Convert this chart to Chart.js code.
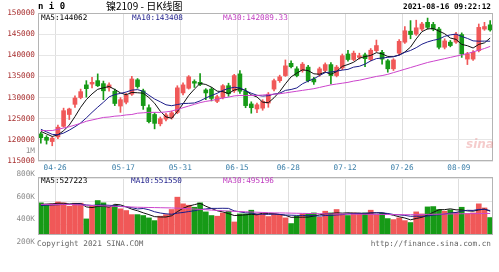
<!DOCTYPE html>
<html>
<head>
<meta charset="utf-8">
<script src="https://cdn.jsdelivr.net/npm/chart.js@4.4.1/dist/chart.umd.min.js"></script>
<style>
  body { margin: 0; background: #fff; }
  #wrap { position: relative; width: 499px; height: 272px; overflow: hidden; background: #fff; }
  #wrap canvas { position: absolute; left: 0; top: 0; }
  .txt { position: absolute; white-space: nowrap; font-family: 'DejaVu Sans Mono', monospace; font-size: 7.7px; line-height: 10px; }
</style>
</head>
<body>
<div id="wrap">
  <canvas id="kline" width="499" height="272"></canvas>
  <canvas id="vol" width="499" height="272"></canvas>

  <div class="txt" style="left:38px;top:1px;font-size:9px;font-weight:bold;">n i 0</div>
  <div class="txt" style="left:106px;top:0px;font-family:'Noto Sans CJK SC';font-size:10px;line-height:12px;">镍2109 - 日K线图</div>
  <div class="txt" style="right:8px;top:2px;font-weight:bold;">2021-08-16 09:22:12</div>

  <div class="txt" style="left:41px;top:13px;color:#000;">MA5:144062</div>
  <div class="txt" style="left:132px;top:13px;color:#1c1c8a;">MA10:143408</div>
  <div class="txt" style="left:223px;top:13px;color:#c03cc0;">MA30:142089.33</div>

  <div class="txt" style="left:41px;top:176px;color:#000;">MA5:527223</div>
  <div class="txt" style="left:131px;top:176px;color:#1c1c8a;">MA10:551550</div>
  <div class="txt" style="left:223px;top:176px;color:#c03cc0;">MA30:495196</div>

  <div class="txt" style="left:37px;top:239px;color:#666;">Copyright 2021 SINA.COM</div>
  <div class="txt" style="right:8px;top:239px;color:#666;">http://finance.sina.com.cn</div>
  <div class="txt" style="left:466px;top:139px;font-family:'DejaVu Sans';font-size:12px;font-style:italic;font-weight:bold;color:rgba(225,110,110,0.35);">sina</div>
</div>

<script>
// trading days shown on the chart
const dates = [
  '04-21','04-22','04-23','04-26','04-27','04-28','04-29','04-30','05-06','05-07',
  '05-10','05-11','05-12','05-13','05-14','05-17','05-18','05-19','05-20','05-21',
  '05-24','05-25','05-26','05-27','05-28','05-31','06-01','06-02','06-03','06-04',
  '06-07','06-08','06-09','06-10','06-11','06-15','06-16','06-17','06-18','06-21',
  '06-22','06-23','06-24','06-25','06-28','06-29','06-30','07-01','07-02','07-05',
  '07-06','07-07','07-08','07-09','07-12','07-13','07-14','07-15','07-16','07-19',
  '07-20','07-21','07-22','07-23','07-26','07-27','07-28','07-29','07-30','08-02',
  '08-03','08-04','08-05','08-06','08-09','08-10','08-11','08-12','08-13','08-16'
];
const tickDates = ['04-26', '05-17', '05-31', '06-15', '06-28', '07-12', '07-26', '08-09'];

const openPrices = [
  121400, 120600, 119600, 120700, 123200, 126000, 128400, 130000, 133000, 133200,
  134000, 133300, 132300, 131500, 128000, 128900, 130800, 134200, 131600, 127600,
  126000, 123800, 124900, 125300, 126500, 131100, 132200, 133800, 133600, 131800,
  132000, 129100, 130000, 132800, 131600, 135600, 131500, 128500, 127300, 127500,
  128700, 132000, 134000, 135200, 138100, 136800, 136400, 137200, 134400, 135400,
  136400, 137800, 135200, 137000, 140300, 139000, 139500, 140100, 139000, 141100,
  140700, 138700, 136800, 140500, 143100, 145700, 145000, 146200, 147800, 147300,
  146200, 141900, 143100, 143100, 144900, 139100, 139100, 141100, 146200, 147200
];
const closePrices = [
  120500, 119900, 120400, 123000, 126900, 127300, 129900, 131400, 132100, 133600,
  132800, 131600, 133000, 128600, 129500, 130600, 134400, 132600, 128100, 124300,
  123900, 125000, 125900, 126400, 132300, 133000, 134900, 133400, 133100, 131100,
  129800, 130200, 132800, 130900, 135200, 131500, 128100, 127600, 128300, 129100,
  130800, 134000, 134900, 137500, 137300, 135200, 137900, 134000, 133700, 136800,
  137800, 135200, 137200, 139900, 139000, 140500, 139900, 139200, 141200, 142300,
  139100, 136800, 138900, 143300, 145800, 144900, 146500, 147400, 146600, 146200,
  141900, 143400, 142300, 145000, 140300, 140300, 140700, 146600, 146800, 146000
];
const highPrices = [
  121800, 121000, 120700, 123500, 127500, 127500, 130400, 132000, 134000, 134800,
  135600, 133900, 133500, 132000, 130000, 131000, 135000, 134500, 132000, 128300,
  126400, 125400, 126300, 126800, 132800, 133500, 135200, 134200, 135700, 132100,
  132400, 130600, 133100, 133400, 135500, 136400, 132200, 129000, 128700, 129500,
  131200, 134400, 135300, 138900, 138700, 137300, 138300, 137600, 134800, 137200,
  138200, 138300, 137600, 140300, 141200, 141000, 140500, 140500, 141600, 143600,
  141200, 139000, 139200, 143700, 146800, 148200, 148300, 147800, 148800, 147800,
  146600, 143900, 143500, 145400, 145300, 140700, 141100, 147400, 147800, 148200
];
const lowPrices = [
  119200, 119000, 118600, 120300, 123000, 124800, 127700, 129700, 130100, 132300,
  132600, 129500, 131500, 128100, 126500, 128500, 130500, 132200, 127200, 124000,
  122600, 123300, 124500, 124900, 126200, 130600, 132000, 132400, 132800, 129500,
  129200, 128800, 129700, 130300, 131200, 131000, 127600, 126300, 126400, 127000,
  127700, 131600, 133600, 135000, 137000, 134900, 136000, 133700, 133100, 135000,
  136000, 133200, 134900, 136600, 138600, 138700, 139100, 137300, 138700, 140800,
  137900, 136000, 136400, 140100, 142800, 143900, 144700, 145800, 146200, 145800,
  141500, 141500, 142000, 142800, 139500, 137800, 138800, 140800, 145900, 145700
];

const ma5 = [
  122000, 121400, 120800, 121200, 122140, 123500, 125500, 127700, 129520, 130860,
  131960, 132300, 132620, 131920, 131100, 130660, 131220, 131140, 131040, 130000,
  128660, 126780, 125440, 125100, 126700, 128520, 130500, 132000, 133340, 133100,
  132460, 131520, 131400, 130960, 131780, 132120, 131700, 130660, 130140, 128920,
  128780, 129960, 131420, 133260, 134900, 135780, 136560, 136380, 135620, 135520,
  136040, 135500, 136140, 137380, 137820, 138360, 139300, 139700, 139960, 140620,
  140340, 139720, 139660, 140080, 140780, 141940, 143880, 145580, 146240, 146320,
  145720, 145100, 144080, 143760, 142580, 142260, 141720, 142580, 142940, 144080
];
const ma10 = [
  122500, 121900, 121300, 121200, 121600, 122300, 123100, 124000, 125200, 126500,
  127730, 128900, 130160, 130720, 130980, 131310, 131760, 131880, 131480, 130550,
  129660, 129000, 128290, 128070, 128350, 128590, 128640, 128720, 129220, 129900,
  130490, 131010, 131700, 132150, 132440, 132290, 131610, 131030, 130550, 130350,
  130450, 130830, 131040, 131700, 131910, 132280, 133260, 133900, 134440, 135210,
  135910, 136030, 136260, 136500, 136670, 137200, 137400, 137920, 138670, 139220,
  139350, 139510, 139680, 140020, 140700, 141140, 141800, 142620, 143160, 143550,
  143830, 144490, 144830, 145000, 144450, 143990, 143410, 143330, 143350, 143330
];
const ma30 = [
  122200, 122200, 122200, 122500, 122800, 123100, 123500, 123900, 124400, 124700,
  125000, 125300, 125400, 125600, 125700, 125900, 126000, 126300, 126400, 126500,
  126500, 126500, 126600, 126800, 127200, 127600, 128000, 128400, 128800, 129100,
  129300, 129600, 129900, 130100, 130400, 130500, 130500, 130500, 130500, 130600,
  130700, 130800, 130900, 131100, 131300, 131500, 131700, 131900, 132100, 132400,
  132700, 133000, 133200, 133400, 133600, 133900, 134100, 134400, 134700, 135000,
  135200, 135500, 135900, 136300, 136700, 137100, 137500, 137900, 138300, 138600,
  138900, 139200, 139500, 139800, 140100, 140400, 140800, 141200, 141600, 142100
];

const volumes = [
  589000, 568000, 580000, 597000, 589000, 559000, 586000, 586000, 447000, 559000,
  609000, 589000, 553000, 568000, 536000, 521000, 485000, 485000, 477000, 456000,
  432000, 471000, 485000, 530000, 639000, 580000, 568000, 550000, 589000, 509000,
  477000, 471000, 500000, 515000, 420000, 491000, 491000, 524000, 491000, 494000,
  468000, 491000, 485000, 456000, 406000, 471000, 491000, 491000, 500000, 462000,
  515000, 500000, 530000, 485000, 477000, 500000, 497000, 500000, 524000, 485000,
  497000, 450000, 441000, 456000, 432000, 415000, 509000, 491000, 553000, 556000,
  530000, 515000, 527000, 506000, 550000, 494000, 500000, 580000, 544000, 459000
];
const volMa5 = [
  575000, 578000, 580000, 585000, 585000, 579000, 582000, 583000, 553000, 547000,
  557000, 558000, 551000, 576000, 571000, 553000, 533000, 519000, 501000, 485000,
  467000, 464000, 464000, 475000, 511000, 541000, 560000, 573000, 585000, 559000,
  539000, 519000, 509000, 494000, 477000, 479000, 483000, 488000, 483000, 498000,
  494000, 494000, 486000, 479000, 461000, 462000, 462000, 463000, 472000, 483000,
  492000, 494000, 501000, 498000, 501000, 498000, 498000, 492000, 500000, 501000,
  501000, 491000, 479000, 466000, 455000, 439000, 451000, 461000, 480000, 505000,
  528000, 529000, 536000, 527000, 526000, 518000, 515000, 526000, 534000, 515000
];
const volMa10 = [
  565000, 568000, 570000, 572000, 575000, 576000, 578000, 579000, 570000, 566000,
  570000, 570000, 567000, 565000, 559000, 555000, 546000, 535000, 539000, 528000,
  510000, 499000, 492000, 488000, 498000, 504000, 512000, 519000, 530000, 535000,
  540000, 540000, 541000, 540000, 518000, 509000, 501000, 499000, 489000, 488000,
  487000, 489000, 487000, 481000, 480000, 478000, 478000, 475000, 476000, 472000,
  477000, 478000, 482000, 485000, 492000, 495000, 496000, 497000, 499000, 501000,
  500000, 495000, 486000, 483000, 478000, 470000, 471000, 470000, 473000, 480000,
  484000, 490000, 499000, 504000, 516000, 523000, 522000, 531000, 531000, 521000
];
const volMa30 = [
  575000, 575000, 575000, 575000, 575000, 575000, 572000, 570000, 568000, 566000,
  564000, 562000, 560000, 558000, 556000, 554000, 552000, 550000, 549000, 548000,
  547000, 546000, 545000, 544000, 542000, 540000, 537000, 534000, 531000, 528000,
  525000, 522000, 519000, 516000, 514000, 512000, 510000, 508000, 506000, 504000,
  502000, 500000, 500000, 499000, 498000, 497000, 496000, 495000, 494000, 493000,
  492000, 491000, 490000, 490000, 489000, 489000, 488000, 488000, 487000, 487000,
  486000, 486000, 485000, 485000, 484000, 484000, 485000, 486000, 487000, 488000,
  489000, 490000, 491000, 492000, 493000, 493000, 494000, 494000, 495000, 495000
];
const volTicks = [200000, 400000, 600000, 800000, 1000000];

const RED = '#f05858';
const GREEN = '#169a16';
const MONO = { family: 'DejaVu Sans Mono', size: 7.7 };

const upDay = openPrices.map((o, i) => closePrices[i] >= o);
const candleColors = upDay.map(u => u ? RED : GREEN);

// outline of the plot box
const framePlugin = {
  id: 'frame',
  afterDraw(chart) {
    const a = chart.chartArea;
    const ctx = chart.ctx;
    ctx.save();
    ctx.strokeStyle = '#b4b4b4';
    ctx.lineWidth = 1;
    ctx.strokeRect(a.left + 0.5, a.top + 0.5, a.right - a.left - 1, a.bottom - a.top - 1);
    ctx.restore();
  }
};

const dateGridColor = ctx => tickDates.includes(dates[ctx.index]) ? '#dedede' : 'rgba(0,0,0,0)';

function maLine(data, color) {
  return {
    type: 'line',
    data: data,
    borderColor: color,
    borderWidth: 1,
    pointRadius: 0,
    fill: false,
    tension: 0,
    order: 0
  };
}

new Chart(document.getElementById('kline'), {
  type: 'bar',
  data: {
    labels: dates,
    datasets: [
      maLine(ma30, '#cc44cc'),
      maLine(ma10, '#1c1c8a'),
      maLine(ma5, '#111'),
      {
        data: openPrices.map((o, i) => [o, closePrices[i]]),
        backgroundColor: candleColors,
        borderWidth: 0,
        barThickness: 4,
        minBarLength: 1,
        grouped: false,
        order: 1
      },
      {
        data: lowPrices.map((l, i) => [l, highPrices[i]]),
        backgroundColor: candleColors,
        borderWidth: 0,
        barThickness: 1,
        grouped: false,
        order: 2
      }
    ]
  },
  options: {
    responsive: false,
    animation: false,
    layout: { autoPadding: false, padding: { left: 0, right: 6, top: 13, bottom: 0 } },
    plugins: { legend: { display: false }, tooltip: { enabled: false } },
    scales: {
      x: {
        offset: true,
        border: { display: false },
        grid: { offset: true, drawTicks: false, color: dateGridColor },
        ticks: {
          autoSkip: false,
          maxRotation: 0,
          padding: 2,
          labelOffset: -2.8,
          color: '#3d80aa',
          font: MONO,
          callback: (v, i) => tickDates.includes(dates[i]) ? dates[i] : ''
        },
        afterFit: scale => { scale.height = 111; }
      },
      y: {
        min: 115000,
        max: 150000,
        border: { display: false },
        grid: { drawTicks: false, color: '#e6e6e6' },
        ticks: {
          stepSize: 5000,
          padding: 3,
          color: '#a83030',
          font: MONO,
          callback: v => String(v)
        },
        afterFit: scale => { scale.width = 38; }
      }
    }
  },
  plugins: [framePlugin]
});

new Chart(document.getElementById('vol'), {
  type: 'bar',
  data: {
    labels: dates,
    datasets: [
      maLine(volMa30, '#cc44cc'),
      maLine(volMa10, '#1c1c8a'),
      maLine(volMa5, '#111'),
      {
        data: volumes,
        backgroundColor: candleColors,
        borderWidth: 0,
        barThickness: 5,
        order: 1
      }
    ]
  },
  options: {
    responsive: false,
    animation: false,
    layout: { autoPadding: false, padding: { left: 0, right: 6, top: 177, bottom: 37 } },
    plugins: { legend: { display: false }, tooltip: { enabled: false } },
    scales: {
      x: {
        offset: true,
        border: { display: false },
        grid: { offset: true, drawTicks: false, color: dateGridColor },
        ticks: { display: false, autoSkip: false },
        afterFit: scale => { scale.height = 0; }
      },
      y: {
        min: 305000,
        max: 817000,
        border: { display: false },
        grid: {
          drawTicks: false,
          color: ctx => (ctx.tick && ctx.tick.value > 305000 && ctx.tick.value < 817000) ? '#e6e6e6' : 'rgba(0,0,0,0)'
        },
        afterBuildTicks: scale => { scale.ticks = volTicks.map(v => ({ value: v })); },
        ticks: {
          autoSkip: false,
          padding: 3,
          labelOffset: -5,
          color: '#8c8c8c',
          font: MONO,
          callback: v => v >= 1000000 ? (v / 1000000) + 'M' : (v / 1000) + 'K'
        },
        afterFit: scale => { scale.width = 38; }
      }
    }
  },
  plugins: [framePlugin]
});
</script>
</body>
</html>
